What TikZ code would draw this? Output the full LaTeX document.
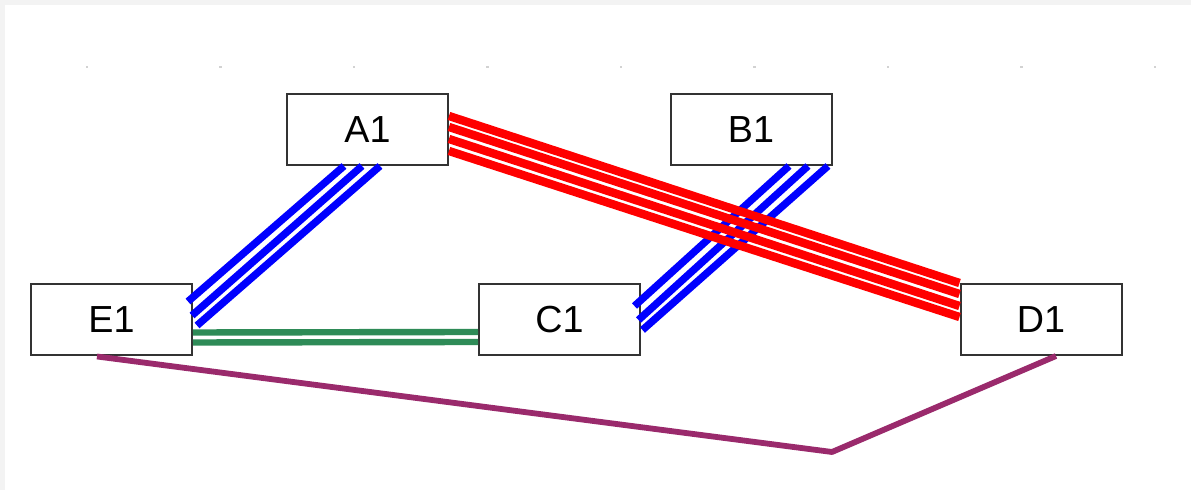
\documentclass[tikz,border=0pt]{standalone}
\usepackage{fontspec}
\setmainfont{Liberation Sans}
\usetikzlibrary{calc}
\definecolor{bggray}{HTML}{F3F3F3}
\definecolor{boxline}{HTML}{333333}
\definecolor{linkgreen}{HTML}{2E8B57}
\definecolor{linkpurple}{HTML}{9A2A6C}
\definecolor{dotgray}{HTML}{D2D2D2}
\begin{document}
\begin{tikzpicture}[x=0.5pt,y=-0.5pt,
  box/.style={draw=boxline,line width=1pt,fill=white,rectangle,minimum width=80.5pt,minimum height=35.5pt,inner sep=0pt,font=\fontsize{18.85}{22}\selectfont},
  bluelink/.style={draw=blue,line width=3.7pt},
  redlink/.style={draw=red,line width=4.2pt},
  greenlink/.style={draw=linkgreen,line width=3.2pt},
  purplelink/.style={draw=linkpurple,line width=2.9pt,line join=round},
  griddot/.style={fill=dotgray}]
\fill[bggray] (0,0) rectangle (1191,490);
\fill[white] (5,5) rectangle (1191,490);
\useasboundingbox (0,0) rectangle (1191,490);
% faint grid dots
\foreach \gx in {87,220.5,354,487.5,621,754.5,888,1021.5,1155}
  \fill[griddot] (\gx-1.2,66) rectangle (\gx+1.2,68.4);
% nodes
\node[box] (A1) at (367.5,129.5) {A1};
\node[box] (B1) at (751,129.5) {B1};
\node[box] (E1) at (111.5,320) {E1};
\node[box] (C1) at (559.5,319.5) {C1};
\node[box] (D1) at (1041,319.5) {D1};
% A1 -- E1 (blue)
\foreach \t/\bx/\by in {58/-5/18, 76/-1/32, 94/4/42}
  \draw[bluelink] ($(A1.south west)+(\t,0)$) -- ($(E1.north east)+(\bx,\by)$);
% B1 -- C1 (blue)
\foreach \t/\bx/\by in {119.5/-6.5/23, 138.5/-2.5/37, 158.5/1.5/47}
  \draw[bluelink] ($(B1.south west)+(\t,0)$) -- ($(C1.north east)+(\bx,\by)$);
% A1 -- D1 (red)
\foreach \a/\b in {23/0, 34/11, 46/23, 58/34}
  \draw[redlink] ($(A1.north east)+(0,\a)$) -- ($(D1.north west)+(0,\b)$);
% E1 -- C1 (green)
\foreach \o in {12.5,22.5}
  \draw[greenlink] ($(E1.east)+(0,\o)$) -- ($(C1.west)+(0,\o)$);
% E1 -- D1 (purple)
\coordinate (bend) at (832,452);
\draw[purplelink] ($(E1.south)+(-14.5,0)$) -- (bend) -- ($(D1.south)+(15,0)$);
\end{tikzpicture}
\end{document}
